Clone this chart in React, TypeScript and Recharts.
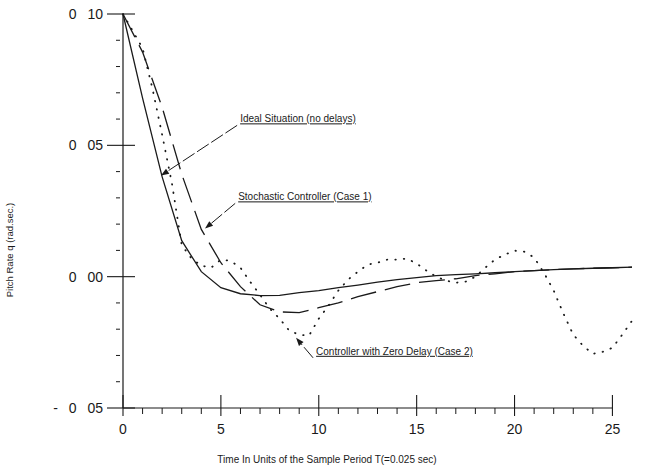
import React from "react";
import { LineChart, Line, XAxis, YAxis, ReferenceLine } from "recharts";

// sample instants (units of T)
const tInt = [0, 1, 2, 3, 4, 5, 6, 7, 8, 9, 10, 11, 12, 13, 14, 15, 16, 17, 18, 19, 20, 21, 22, 23, 24, 25, 26];

const ideal = [
  0.1, 0.068, 0.038, 0.0137, 0.0019, -0.0042, -0.0065, -0.0072, -0.0071, -0.0061, -0.0053, -0.0042, -0.0032,
  -0.0021, -0.0011, -0.0004, 0.0004, 0.0008, 0.0011, 0.0015, 0.0019, 0.0023, 0.0027, 0.003, 0.0032, 0.0034, 0.0036,
];

const stochastic = [
  0.1, 0.0855, 0.0645, 0.039, 0.018, 0.0053, -0.0038, -0.0107, -0.0134, -0.0137, -0.0118, -0.01, -0.0076,
  -0.0057, -0.0038, -0.0023, -0.0015, -0.0008, 0.0004, 0.0011, 0.0019, 0.0023, 0.0027, 0.003, 0.0032, 0.0034, 0.0036,
];

const tHalf = [
  0, 0.5, 1, 1.5, 2, 2.5, 3, 3.5, 4, 4.5, 5, 5.5, 6, 6.5, 7, 7.5, 8, 8.5, 9, 9.5, 10, 10.5, 11, 11.5, 12, 12.5,
  13, 13.5, 14, 14.5, 15, 15.5, 16, 16.5, 17, 17.5, 18, 18.5, 19, 19.5, 20, 20.5, 21, 21.5, 22, 22.5, 23, 23.5,
  24, 24.5, 25, 25.5, 26,
];

const zeroDelay = [
  0.1, 0.0935, 0.087, 0.0718, 0.054, 0.0355, 0.012, 0.0069, 0.0042, 0.0034, 0.0065, 0.006, 0.0034, -0.002,
  -0.0069, -0.0122, -0.016, -0.0206, -0.0221, -0.0225, -0.016, -0.011, -0.0053, -0.0011, 0.0019, 0.0046,
  0.0053, 0.0065, 0.0065, 0.0069, 0.005, 0.0023, 0.0, -0.0015, -0.0023, -0.0019, 0.0, 0.0034, 0.0065, 0.0084,
  0.0099, 0.0095, 0.0073, 0.0015, -0.0053, -0.0141, -0.0221, -0.0263, -0.0294, -0.0286, -0.0271, -0.0221, -0.0168,
];

const xTicks = [0, 1, 2, 3, 4, 5, 6, 7, 8, 9, 10, 11, 12, 13, 14, 15, 16, 17, 18, 19, 20, 21, 22, 23, 24, 25];
const yTicks = [-0.05, -0.04, -0.03, -0.02, -0.01, 0, 0.01, 0.02, 0.03, 0.04, 0.05, 0.06, 0.07, 0.08, 0.09, 0.1];
const yMajor = [0.1, 0.05, 0, -0.05];
const yMajorLabels = ["0 10", "0 05", "0 00", "- 0 05"];

const annotations = [
  { text: "Ideal Situation (no delays)", from: { x: 5.83, y: 0.0576 }, to: { x: 1.94, y: 0.0385 } },
  { text: "Stochastic Controller (Case 1)", from: { x: 5.73, y: 0.0279 }, to: { x: 4.19, y: 0.0183 } },
  { text: "Controller with Zero Delay (Case 2)", from: { x: 9.71, y: -0.0309 }, to: { x: 8.84, y: -0.0233 } },
];

const idealData = tInt.map((t, i) => ({ t, v: ideal[i] }));
const stochasticData = tInt.map((t, i) => ({ t, v: stochastic[i] }));
const zeroDelayData = tHalf.map((t, i) => ({ t, v: zeroDelay[i] }));

const FONT = "'Liberation Sans', Arial, sans-serif";
const INK = "#1a1a1a";

function XTick({ x, y, payload }: any) {
  const major = payload.value % 5 === 0;
  if (!major) {
    return <line x1={x} y1={y} x2={x} y2={y + 6} stroke={INK} strokeWidth={1} />;
  }
  return (
    <g>
      <line x1={x} y1={y - 13} x2={x} y2={y + 8} stroke={INK} strokeWidth={1.1} />
      <text x={x} y={y + 26} textAnchor="middle" fontSize={14} fontFamily={FONT} fill={INK}>
        {payload.value}
      </text>
    </g>
  );
}

function YTick({ x, y, payload }: any) {
  const idx = yMajor.findIndex((m) => Math.abs(m - payload.value) < 1e-6);
  if (idx < 0) {
    return <line x1={x - 7} y1={y} x2={x - 3} y2={y} stroke={INK} strokeWidth={1} />;
  }
  return (
    <g>
      <line x1={x - 16} y1={y} x2={x + 12} y2={y} stroke={INK} strokeWidth={1.1} />
      <text x={x - 20} y={y + 5} textAnchor="end" fontSize={14} wordSpacing={7} fontFamily={FONT} fill={INK}>
        {yMajorLabels[idx]}
      </text>
    </g>
  );
}

function Pointer({ x1, y1, x2, y2, text }: any) {
  const ang = Math.atan2(y2 - y1, x2 - x1);
  const len = 8;
  const w = 3;
  const bx = x2 - len * Math.cos(ang);
  const by = y2 - len * Math.sin(ang);
  const px = -Math.sin(ang) * w;
  const py = Math.cos(ang) * w;
  return (
    <g>
      <line x1={x1} y1={y1} x2={bx} y2={by} stroke={INK} strokeWidth={1} strokeDasharray="14 3" />
      <polygon points={`${x2},${y2} ${bx + px},${by + py} ${bx - px},${by - py}`} fill={INK} />
      <text x={x1 + 3} y={y1 - 3} fontSize={10} fontFamily={FONT} fill={INK} textDecoration="underline">
        {text}
      </text>
    </g>
  );
}

export default function App() {
  return (
    <div style={{ position: "absolute", left: 0, top: 0, width: 645, height: 472, background: "#fff" }}>
      <LineChart width={645} height={472} margin={{ top: 14, right: 13, bottom: 0, left: 0 }}>
        <XAxis
          type="number"
          dataKey="t"
          domain={[0, 26]}
          ticks={xTicks}
          interval={0}
          axisLine={false}
          tickLine={false}
          tickSize={0}
          tickMargin={0}
          height={64}
          tick={<XTick />}
          label={{
            content: ({ viewBox }: any) => (
              <text x={viewBox.x + 204} y={viewBox.y + 55} textAnchor="middle" fontSize={10} fontFamily={FONT} fill={INK}>
                Time In Units of the Sample Period T(=0.025 sec)
              </text>
            ),
          }}
        />
        <YAxis
          type="number"
          domain={[-0.05, 0.1]}
          ticks={yTicks}
          interval={0}
          width={123}
          axisLine={{ stroke: INK, strokeWidth: 1.2 }}
          tickLine={false}
          tickSize={0}
          tickMargin={0}
          tick={<YTick />}
          label={{
            content: ({ viewBox }: any) => {
              const cx = viewBox.x + 13;
              const cy = viewBox.y + 236;
              return (
                <text x={cx} y={cy} transform={`rotate(-90 ${cx} ${cy})`} textAnchor="middle" fontSize={9.5} fontFamily={FONT} fill={INK}>
                  Pitch Rate q (rad.sec.)
                </text>
              );
            },
          }}
        />
        <ReferenceLine segment={[{ x: 0, y: -0.05 }, { x: 25, y: -0.05 }]} stroke={INK} strokeWidth={1.2} />
        <Line data={idealData} dataKey="v" type="linear" stroke={INK} strokeWidth={1.3} dot={false} isAnimationActive={false} />
        <Line data={stochasticData} dataKey="v" type="linear" stroke={INK} strokeWidth={1.3} strokeDasharray="26 9" dot={false} isAnimationActive={false} />
        <Line data={zeroDelayData} dataKey="v" type="linear" stroke={INK} strokeWidth={1.8} strokeLinecap="round" strokeDasharray="0.5 8" dot={false} isAnimationActive={false} />
        {annotations.map((a) => (
          <ReferenceLine
            key={a.text}
            segment={[a.from, a.to]}
            shape={(p: any) => <Pointer {...p} text={a.text} />}
          />
        ))}
      </LineChart>
    </div>
  );
}
